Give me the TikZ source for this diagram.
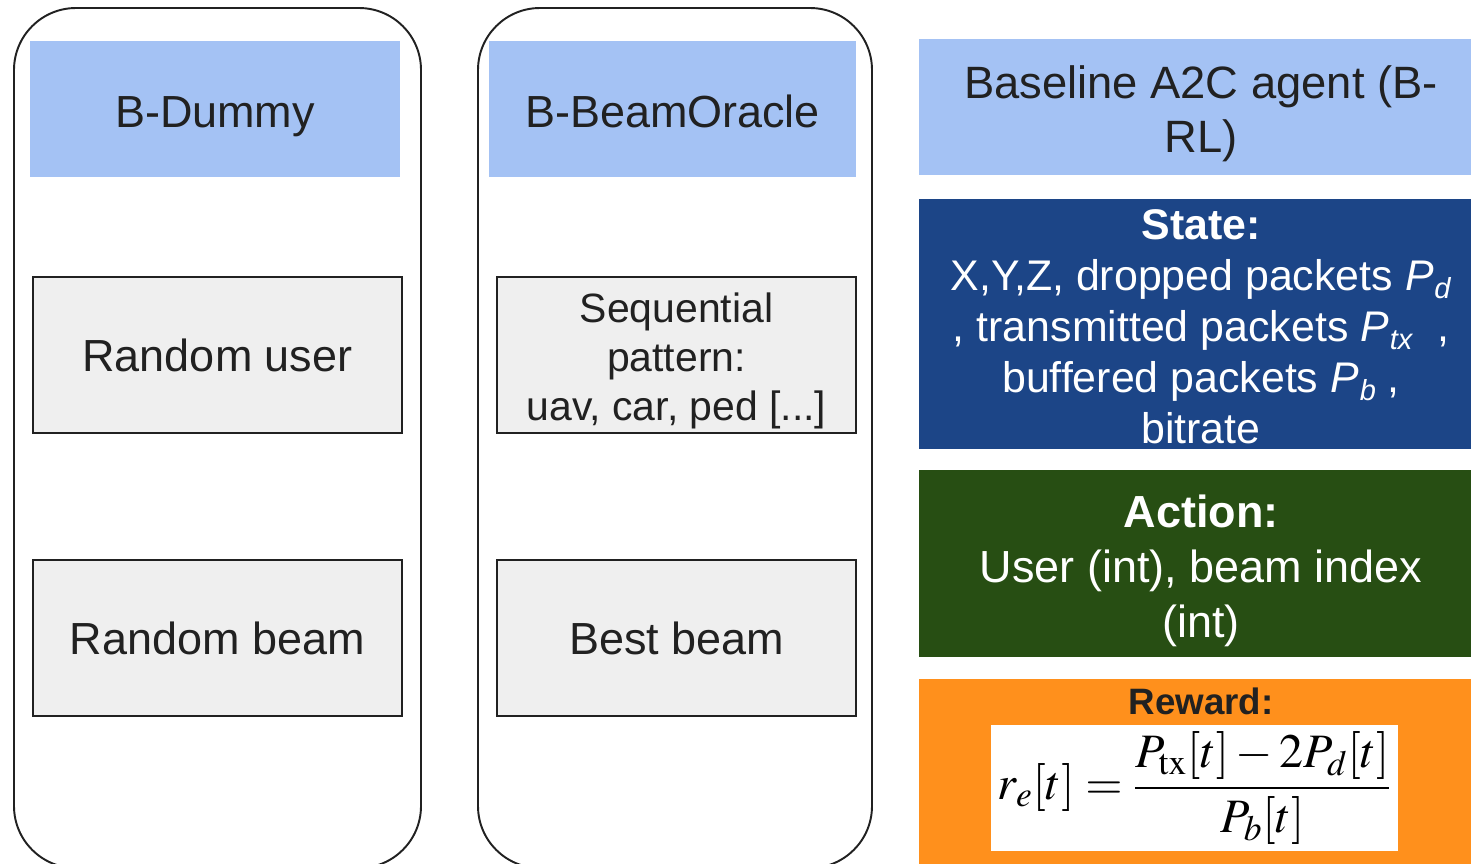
\documentclass[tikz,border=0pt]{standalone}
\usepackage{mathptmx}
\usepackage[no-math]{fontspec}
\setmainfont{Liberation Sans}
\definecolor{hdrblue}{HTML}{A4C2F4}
\definecolor{stateblue}{HTML}{1C4587}
\definecolor{actgreen}{HTML}{274E13}
\definecolor{reworange}{HTML}{FF901C}
\definecolor{boxgray}{HTML}{EFEFEF}
\definecolor{ink}{HTML}{212121}
\newcommand\Ps[1]{\textit{P}\kern0.5pt\raisebox{-0.35ex}{\fontsize{16.5}{16.5}\selectfont\textit{#1}}}
\tikzset{
  container/.style={draw=ink, line width=1.1pt, rounded corners=1.24cm},
  header/.style={fill=hdrblue, inner sep=0pt},
  graybox/.style={fill=boxgray, draw=ink, line width=0.9pt, text=ink, inner sep=0pt, align=center, font=\fontsize{25.6}{28}\selectfont},
  colbox/.style={inner sep=0pt},
  txt/.style={inner sep=0pt, align=center, text=ink, font=\fontsize{25.6}{29}\selectfont},
}
\begin{document}
\begin{tikzpicture}[x=0.02cm, y=-0.02cm]
\useasboundingbox (0,0) rectangle (1471,863);
\clip (0,0) rectangle (1471,863);
% containers
\draw[container] (14,8) rectangle (421,868);
\draw[container] (478,8) rectangle (872,868);
% left column
\node[header, minimum width=7.4cm, minimum height=2.72cm] (dummy) at (215,109) {};
\node[txt, anchor=base] (dummytxt) at (215,127) {B-Dummy};
\node[graybox, minimum width=7.38cm, minimum height=3.12cm] (ruser) at (217.5,355) {Random user};
\node[graybox, minimum width=7.38cm, minimum height=3.12cm] (rbeam) at (217.5,638) {Random beam};
% middle column
\node[header, minimum width=7.34cm, minimum height=2.72cm] (oracle) at (672.5,109) {};
\node[txt, anchor=base] (oracletxt) at (672.5,127) {B-BeamOracle};
\node[graybox, minimum width=7.18cm, minimum height=3.12cm] (seq) at (676.5,355) {};
\node[txt, font=\fontsize{23.3}{27.9}\selectfont] (seqtxt) at (676.5,361) {Sequential\\pattern:\\uav, car, ped [...]};
\node[graybox, minimum width=7.18cm, minimum height=3.12cm] (best) at (676.5,638) {Best beam};
% right column
\node[header, minimum width=11.28cm, minimum height=2.72cm] (agent) at (1201,107) {};
\node[txt, font=\fontsize{25.8}{30.7}\selectfont] (agenttxt) at (1201,114) {Baseline A2C agent (B-\\RL)};
\node[colbox, fill=stateblue, minimum width=11.28cm, minimum height=5.0cm] (state) at (1201,324) {};
\node[txt, text=white, font=\fontsize{24.4}{29}\selectfont] (statetxt) at (1201,326.5) {\textbf{State:}\\X,Y,Z, dropped packets \Ps{d}\\, transmitted packets \Ps{tx}\ \ ,\\buffered packets \Ps{b}\ ,\\bitrate};
\node[colbox, fill=actgreen, minimum width=11.28cm, minimum height=3.74cm] (action) at (1201,563.5) {};
\node[txt, text=white, font=\fontsize{25.6}{31.3}\selectfont] (actiontxt) at (1201,570.5) {\textbf{Action:}\\User (int), beam index\\(int)};
\node[colbox, fill=reworange, minimum width=11.28cm, minimum height=3.9cm] (reward) at (1201,776) {};
\node[txt, font=\fontsize{20.9}{25}\selectfont\bfseries] (rewlabel) at (1201,701) {Reward:};
\node[fill=white, inner sep=0pt, minimum width=8.14cm, minimum height=2.52cm, font=\fontsize{27.3}{30}\selectfont] (formula) at (1194.5,788)
  {$\displaystyle r_e[t] = \frac{P_{\mathrm{tx}}[t] - 2P_d[t]}{P_b[t]}$};
\end{tikzpicture}
\end{document}
